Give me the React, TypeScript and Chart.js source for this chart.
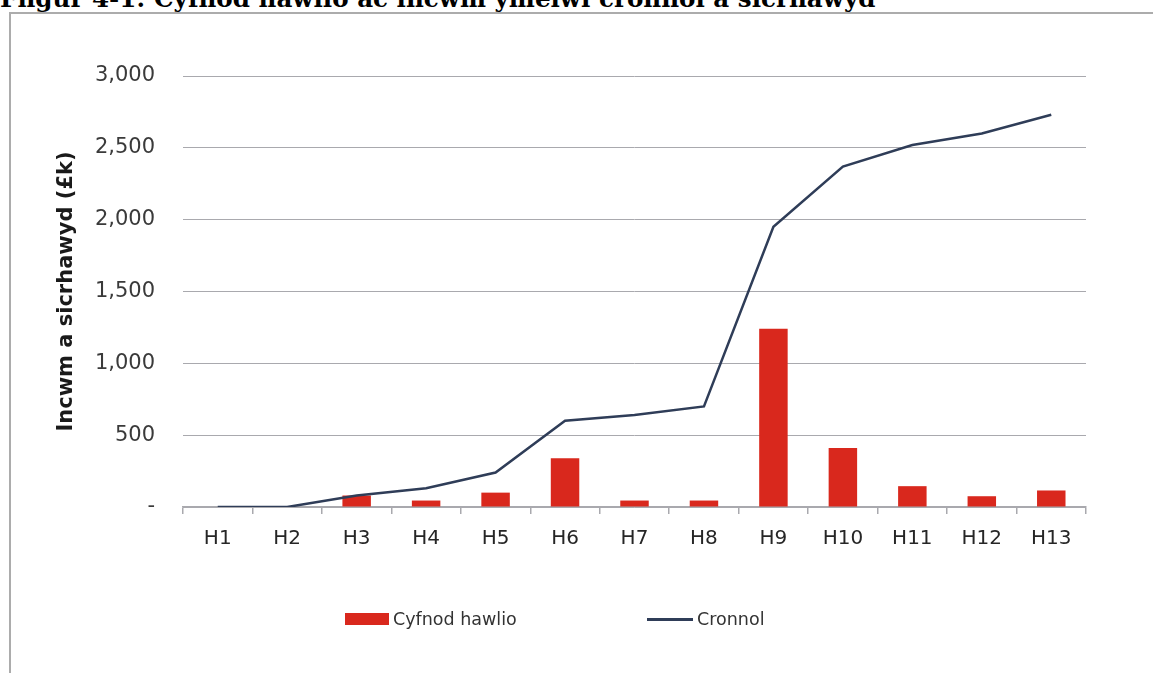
import React, { useEffect, useRef } from "react";
import { Chart, registerables } from "chart.js";

Chart.register(...registerables);

const categories = ["H1", "H2", "H3", "H4", "H5", "H6", "H7", "H8", "H9", "H10", "H11", "H12", "H13"];
const claimPeriod = [0, 0, 80, 45, 100, 340, 45, 45, 1240, 410, 145, 75, 115];
const cumulative = [0, 0, 80, 130, 240, 600, 640, 700, 1950, 2370, 2520, 2600, 2730];
const yTicks = [0, 500, 1000, 1500, 2000, 2500, 3000];

const titleText = "Ffigur 4-1: Cyfnod hawlio ac incwm ymelwi cronnol a sicrhawyd";
const yTitle = "Incwm a sicrhawyd (£k)";
const barLabel = "Cyfnod hawlio";
const lineLabel = "Cronnol";

const RED = "#d9281d";
const NAVY = "#2f3d58";
const GRID = "#a9a9ae";
const FONT = "'DejaVu Sans', sans-serif";

export default function App() {
  const ref = useRef<HTMLCanvasElement | null>(null);

  useEffect(() => {
    if (!ref.current) return;
    const chart = new Chart(ref.current, {
      type: "bar",
      data: {
        labels: categories,
        datasets: [
          {
            type: "line",
            label: lineLabel,
            data: cumulative,
            borderColor: NAVY,
            backgroundColor: NAVY,
            borderWidth: 2.5,
            pointRadius: 0,
            tension: 0,
            order: 0,
          },
          {
            type: "bar",
            label: barLabel,
            data: claimPeriod,
            backgroundColor: RED,
            borderWidth: 0,
            categoryPercentage: 1,
            barPercentage: 0.41,
            order: 1,
          },
        ],
      },
      options: {
        animation: false,
        responsive: false,
        layout: { padding: { left: 40, right: 67, top: 76, bottom: 109 } },
        plugins: {
          legend: { display: false },
          tooltip: { enabled: false },
        },
        scales: {
          x: {
            offset: true,
            grid: {
              offset: true,
              drawOnChartArea: false,
              drawTicks: true,
              tickLength: 7,
              color: GRID,
              lineWidth: 1.5,
            },
            border: { display: true, color: GRID, width: 1.5 },
            ticks: {
              color: "#262626",
              font: { family: FONT, size: 20 },
              padding: 13,
            },
          },
          y: {
            min: 0,
            max: 3000,
            afterBuildTicks: (scale: any) => {
              scale.ticks = yTicks.map((v) => ({ value: v }));
            },
            afterFit: (scale: any) => {
              scale.width = 143;
            },
            grid: { drawTicks: false, color: GRID, lineWidth: 1 },
            border: { display: false },
            ticks: {
              color: "#3a3a3a",
              font: { family: FONT, size: 21 },
              padding: 28,
              callback: (v: any) => (Number(v) === 0 ? "-" : Number(v).toLocaleString("en-GB")),
            },
            title: {
              display: true,
              text: yTitle,
              color: "#1a1a1a",
              font: { family: FONT, size: 21, weight: "bold" },
              padding: { top: 14, bottom: 0 },
            },
          },
        },
      },
    });
    return () => chart.destroy();
  }, []);

  return (
    <div style={{ position: "absolute", left: 0, top: 0, width: 1153, height: 673, overflow: "hidden", background: "#fff" }}>
      <div
        style={{
          position: "absolute",
          left: 0,
          top: -13,
          fontFamily: "'DejaVu Serif', serif",
          fontWeight: "bold",
          fontSize: 24.6,
          lineHeight: "24px",
          whiteSpace: "nowrap",
          color: "#000",
        }}
      >
        {titleText}
      </div>
      <div
        style={{
          position: "absolute",
          left: 9,
          top: 12,
          width: 1200,
          height: 700,
          borderLeft: "2px solid #acacac",
          borderTop: "2px solid #acacac",
        }}
      />
      <canvas ref={ref} width={1153} height={673} style={{ position: "absolute", left: 0, top: 0, width: 1153, height: 673 }} />
      <div style={{ position: "absolute", left: 345, top: 613, width: 44, height: 12, background: RED }} />
      <div
        style={{
          position: "absolute",
          left: 393,
          top: 607,
          height: 24,
          lineHeight: "24px",
          fontFamily: FONT,
          fontSize: 17.5,
          color: "#333",
          whiteSpace: "nowrap",
        }}
      >
        {barLabel}
      </div>
      <div style={{ position: "absolute", left: 647, top: 618, width: 46, height: 3, background: NAVY }} />
      <div
        style={{
          position: "absolute",
          left: 697,
          top: 607,
          height: 24,
          lineHeight: "24px",
          fontFamily: FONT,
          fontSize: 17.5,
          color: "#333",
          whiteSpace: "nowrap",
        }}
      >
        {lineLabel}
      </div>
    </div>
  );
}
